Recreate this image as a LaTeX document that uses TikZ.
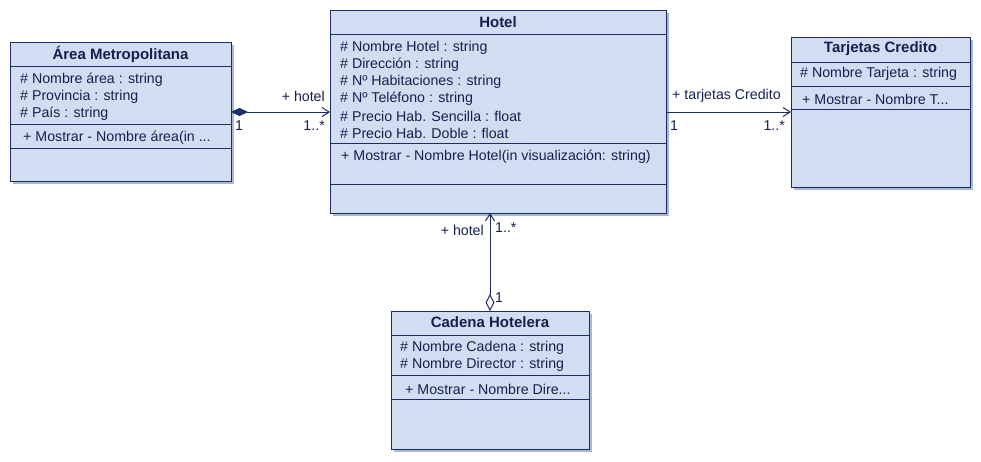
\documentclass[tikz,border=0pt]{standalone}
\usepackage{fontspec}
\setmainfont{Liberation Sans}
\usepackage{tikz}
\usetikzlibrary{arrows.meta,shadows}
\definecolor{umlnavy}{RGB}{28,45,100}
\definecolor{umlfill}{RGB}{209,221,240}
\definecolor{umlshadow}{RGB}{170,185,210}
\definecolor{umltext}{RGB}{22,32,80}

\tikzset{
  classbox/.style={draw=umlnavy,fill=umlfill,line width=1pt,anchor=north west,inner sep=0pt,
    drop shadow={shadow xshift=2pt,shadow yshift=-2pt,fill=umlshadow,opacity=1}},
  classname/.style={inner sep=0pt,text=umltext,font=\bfseries\fontsize{15}{17}\selectfont},
  member/.style={anchor=west,inner sep=0pt,yshift=-1pt,text=umltext,font=\fontsize{14.2}{17}\selectfont},
  rolelabel/.style={inner sep=0pt,text=umltext,font=\fontsize{14.2}{17}\selectfont},
  divider/.style={draw=umlnavy,line width=1pt},
  assoc/.style={draw=umlnavy,line width=1pt},
  navarrow/.style={-{Straight Barb[length=7pt,width=9pt,line width=1pt]}},
}

\begin{document}
\begin{tikzpicture}[x=1pt,y=-1pt]
  \useasboundingbox (0,0) rectangle (981,461);

  % Area Metropolitana
  \node[classbox,minimum width=221,minimum height=139] (area) at (10,42) {};
  \draw[divider] (10,66) -- (231,66);
  \draw[divider] (10,124) -- (231,124);
  \draw[divider] (10,148) -- (231,148);
  \node[classname] (area-name) at (120.5,54) {Área Metropolitana};
  \node[member] (area-a1) at (20,79) {\# Nombre área : string};
  \node[member] (area-a2) at (20,96) {\# Provincia : string};
  \node[member] (area-a3) at (20,113) {\# País : string};
  \node[member] (area-m1) at (23,137) {+ Mostrar - Nombre área(in ...};

  % Hotel
  \node[classbox,minimum width=336,minimum height=203] (hotel) at (330,10) {};
  \draw[divider] (330,34) -- (666,34);
  \draw[divider] (330,143) -- (666,143);
  \draw[divider] (330,184) -- (666,184);
  \node[classname] (hotel-name) at (498,22) {Hotel};
  \foreach \t [count=\i] in {Nombre Hotel : string, Dirección : string,
      Nº Habitaciones : string, Nº Teléfono : string,
      Precio Hab. Sencilla : float, Precio Hab. Doble : float}
    \node[member] (hotel-a\i) at (340,30+17*\i) {\# \t};
  \node[member] (hotel-m1) at (341,156) {+ Mostrar - Nombre Hotel(in visualización: string)};

  % Tarjetas Credito
  \node[classbox,minimum width=179,minimum height=150] (tarjeta) at (791,37) {};
  \draw[divider] (791,62) -- (970,62);
  \draw[divider] (791,86) -- (970,86);
  \draw[divider] (791,109) -- (970,109);
  \node[classname] (tarjeta-name) at (880.5,49) {Tarjetas Credito};
  \node[member] (tarjeta-a1) at (800,73) {\# Nombre Tarjeta : string};
  \node[member] (tarjeta-m1) at (802,98) {+ Mostrar - Nombre T...};

  % Cadena Hotelera
  \node[classbox,minimum width=198,minimum height=138] (cadena) at (391,311) {};
  \draw[divider] (391,335) -- (589,335);
  \draw[divider] (391,375) -- (589,375);
  \draw[divider] (391,399) -- (589,399);
  \node[classname] (cadena-name) at (490,322) {Cadena Hotelera};
  \node[member] (cadena-a1) at (400,347) {\# Nombre Cadena : string};
  \node[member] (cadena-a2) at (400,364) {\# Nombre Director : string};
  \node[member] (cadena-m1) at (405,388) {+ Mostrar - Nombre Dire...};

  % associations
  \coordinate (area-e) at (231,112);
  \coordinate (hotel-w) at (330,112);
  \coordinate (hotel-e) at (666,112);
  \coordinate (tarjeta-w) at (791,112);
  \coordinate (hotel-s) at (490,213);
  \coordinate (cadena-n) at (490,311);

  \draw[assoc,{Diamond[length=17pt,width=8pt]}-{Straight Barb[length=7pt,width=9pt,line width=1pt]}]
    (area-e) -- (hotel-w);
  \draw[assoc,navarrow] (hotel-e) -- (tarjeta-w);
  \draw[assoc,{Diamond[open,fill=white,length=17pt,width=9pt]}-{Straight Barb[length=7pt,width=9pt,line width=1pt]}]
    (cadena-n) -- (hotel-s);

  \node[rolelabel,anchor=east] (r-hotel1) at (325,96) {+ hotel};
  \node[rolelabel,anchor=west] (m-area1) at (235,126) {1};
  \node[rolelabel,anchor=east] (m-hotel1) at (325,126) {1..*};
  \node[rolelabel,anchor=west] (r-tarjeta) at (672,96) {+ tarjetas Credito};
  \node[rolelabel,anchor=west] (m-hotel2) at (670,126) {1};
  \node[rolelabel,anchor=east] (m-tarjeta) at (785,126) {1..*};
  \node[rolelabel,anchor=east] (r-hotel2) at (484,230) {+ hotel};
  \node[rolelabel,anchor=west] (m-hotel3) at (495,228) {1..*};
  \node[rolelabel,anchor=west] (m-cadena) at (495,298) {1};
\end{tikzpicture}
\end{document}
